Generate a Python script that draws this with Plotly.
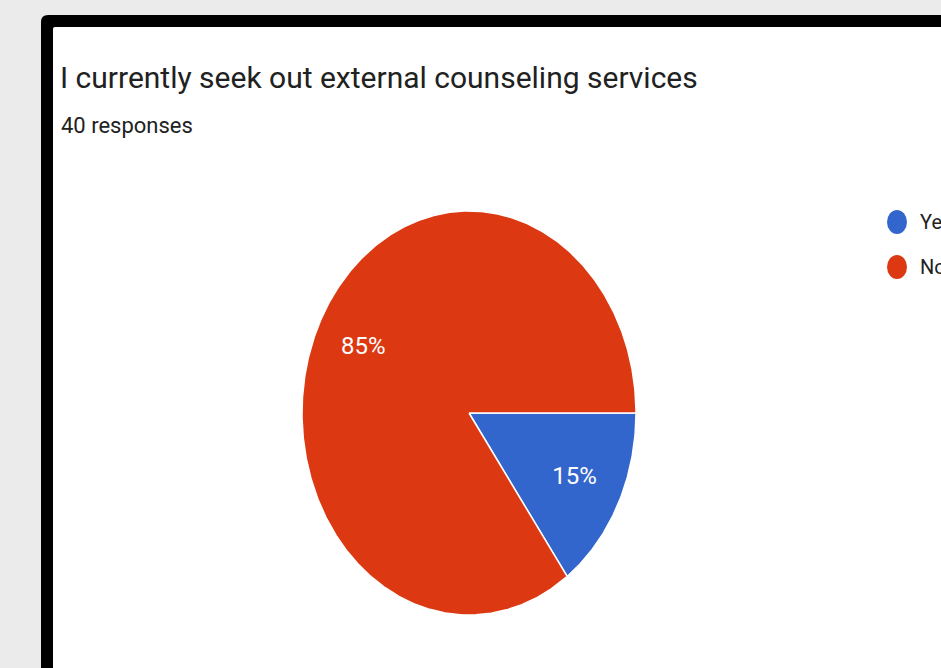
import numpy as np
import plotly.graph_objects as go

# Survey answers
labels = ["Yes", "No"]
values = [15, 85]
colors = ["#3366cc", "#dc3912"]
title_text = "I currently seek out external counseling services"
subtitle_text = "40 responses"

# Canvas / layout geometry (pixel-space axes)
W, H = 941, 668
cx, cy = 469, 413          # pie centre
rx, ry = 167, 202          # pie radii (horizontal, vertical)
label_frac = 0.71          # label distance as a fraction of the radius
FONT = "Roboto"

fig = go.Figure()

total = sum(values)
start = 0.0  # degrees, clockwise from 3 o'clock (y axis is reversed)
for lab, val, col in zip(labels, values, colors):
    span = 360.0 * val / total
    th = np.radians(np.linspace(start, start + span, max(int(span * 2), 8)))
    xs = np.concatenate([[cx], cx + rx * np.cos(th), [cx]])
    ys = np.concatenate([[cy], cy + ry * np.sin(th), [cy]])
    fig.add_trace(go.Scatter(
        x=xs, y=ys, mode="lines", fill="toself", fillcolor=col,
        line=dict(color="white", width=1.5), name=lab,
        hoverinfo="skip", showlegend=False,
    ))
    mid = np.radians(start + span / 2)
    fig.add_trace(go.Scatter(
        x=[cx + label_frac * rx * np.cos(mid)],
        y=[cy + label_frac * ry * np.sin(mid)],
        mode="text", text=[f"{val / total:.0%}"],
        textfont=dict(color="white", size=24, family=FONT),
        hoverinfo="skip", showlegend=False,
    ))
    start += span

# Black rounded frame around the white card
shapes = [
    dict(type="path", xref="x", yref="y", layer="below",
         path="M 48,15 L 980,15 L 980,720 L 41,720 L 41,22 Q 41,15 48,15 Z",
         fillcolor="black", line=dict(width=0)),
    dict(type="path", xref="x", yref="y", layer="below",
         path="M 55,27 L 980,27 L 980,720 L 53,720 L 53,29 Q 53,27 55,27 Z",
         fillcolor="white", line=dict(width=0)),
]

# Legend dots
legend_y = [222, 267]
for col, ly in zip(colors, legend_y):
    shapes.append(dict(type="circle", xref="x", yref="y", layer="above",
                       x0=887, x1=907, y0=ly - 12, y1=ly + 12,
                       fillcolor=col, line=dict(width=0)))

annotations = [
    dict(text=title_text, x=58, y=77, xref="x", yref="y", xanchor="left",
         yanchor="middle", showarrow=False,
         font=dict(family=FONT, size=30, color="#212121")),
    dict(text=subtitle_text, x=59, y=125, xref="x", yref="y", xanchor="left",
         yanchor="middle", showarrow=False,
         font=dict(family=FONT, size=22, color="#212121")),
]
for lab, ly in zip(labels, legend_y):
    annotations.append(dict(text=lab, x=918, y=ly, xref="x", yref="y",
                            xanchor="left", yanchor="middle", showarrow=False,
                            font=dict(family=FONT, size=20, color="#222222")))

fig.update_layout(
    width=W, height=H,
    margin=dict(l=0, r=0, t=0, b=0),
    paper_bgcolor="#ebebeb", plot_bgcolor="#ebebeb",
    xaxis=dict(range=[0, W], visible=False, fixedrange=True),
    yaxis=dict(range=[H, 0], visible=False, fixedrange=True),
    shapes=shapes, annotations=annotations,
    showlegend=False,
)

fig.write_html("out.html", config={"displayModeBar": False})
